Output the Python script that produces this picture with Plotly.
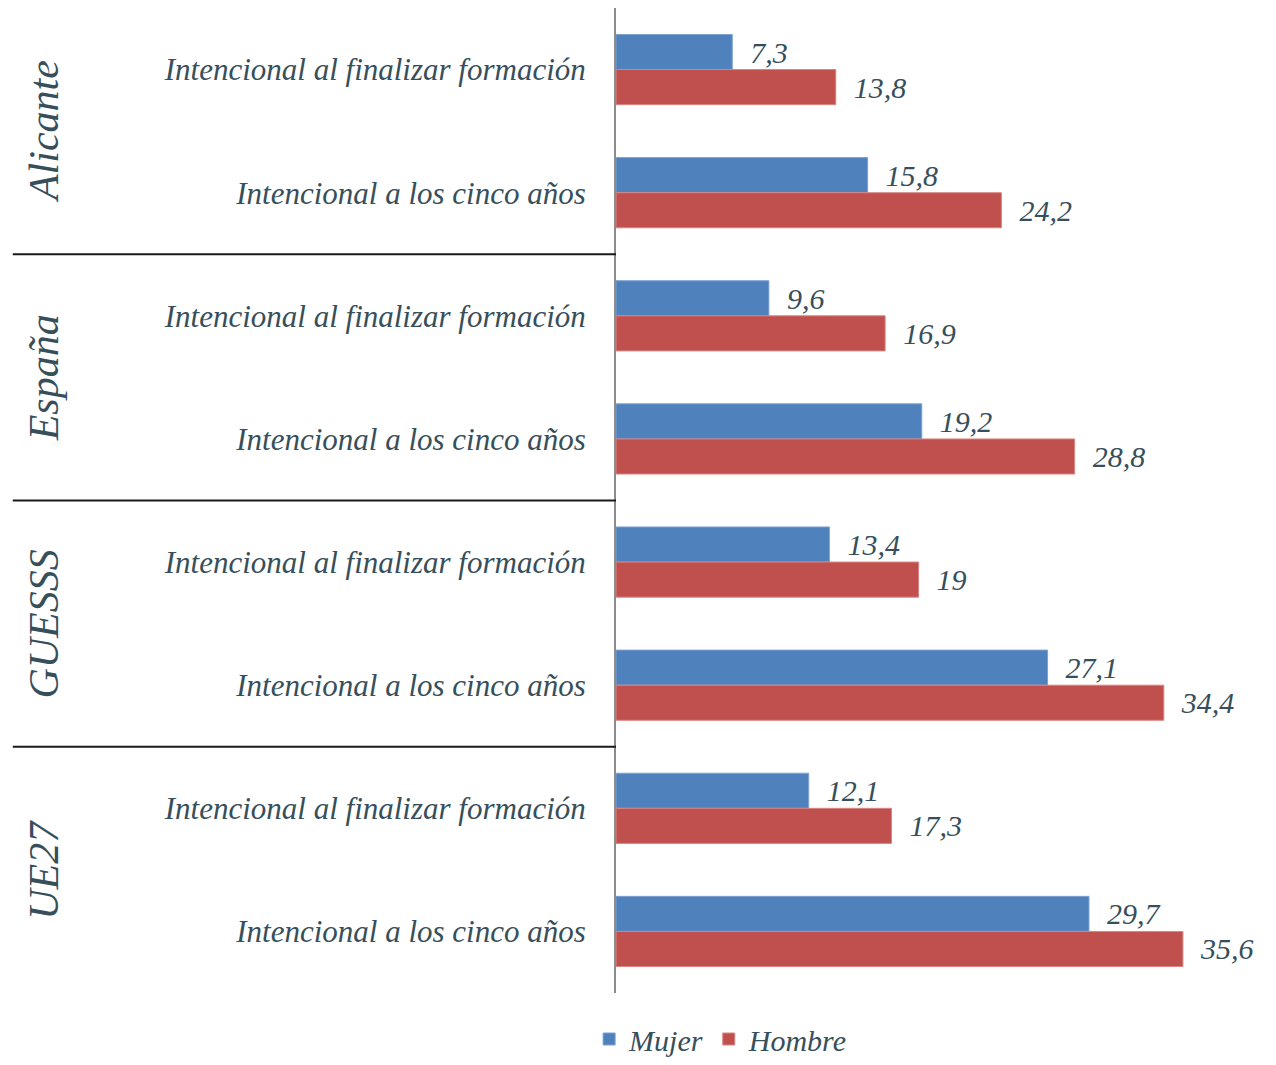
import plotly.graph_objects as go

groups = ["Alicante", "España", "GUESSS", "UE27"]
items = ["Intencional al finalizar formación", "Intencional a los cinco años"]
mujer = [7.3, 15.8, 9.6, 19.2, 13.4, 27.1, 12.1, 29.7]
hombre = [13.8, 24.2, 16.9, 28.8, 19, 34.4, 17.3, 35.6]

labels = [it for g in groups for it in items]
pos = list(range(len(labels)))

TXT = "#374f5b"
FONT = "Liberation Serif, DejaVu Serif, serif"


def fmt(v):
    return "  " + f"{v:g}".replace(".", ",")


fig = go.Figure()
fig.add_trace(go.Bar(
    y=pos, x=mujer, orientation="h", name="Mujer",
    marker=dict(color="#4f81bd", line=dict(color="#7da0d0", width=1)),
    text=[fmt(v) for v in mujer], textposition="outside", cliponaxis=False,
    textfont=dict(family=FONT, size=30, color=TXT, style="italic"),
))
fig.add_trace(go.Bar(
    y=pos, x=hombre, orientation="h", name="Hombre",
    marker=dict(color="#c0504d", line=dict(color="#d88583", width=1)),
    text=[fmt(v) for v in hombre], textposition="outside", cliponaxis=False,
    textfont=dict(family=FONT, size=30, color=TXT, style="italic"),
))

# group separators and rotated group names
n = len(items)
for k in range(1, len(groups)):
    b = k * n - 0.5
    fig.add_shape(type="line", xref="paper", yref="y", x0=-0.947, x1=0,
                  y0=b, y1=b, line=dict(color="#1a1a1a", width=2))
for k, g in enumerate(groups):
    fig.add_annotation(xref="paper", yref="y", x=-0.898, y=k * n + (n - 1) / 2,
                       xanchor="center", yanchor="middle",
                       text=g, textangle=-90, showarrow=False,
                       font=dict(family=FONT, size=42, color=TXT, style="italic"))

# page body adds an 8px margin, so the figure is drawn 8px smaller
fig.update_layout(
    width=1268, height=1057,
    margin=dict(l=608, r=23, t=0, b=72, autoexpand=False),
    barmode="group", bargap=0.43, bargroupgap=0,
    plot_bgcolor="white", paper_bgcolor="white",
    showlegend=True,
    legend=dict(orientation="h", xref="container", yref="container",
                x=0.562, xanchor="center", y=0.0, yanchor="bottom",
                font=dict(family=FONT, size=30, color=TXT, style="italic"),
                itemwidth=30),
    xaxis=dict(range=[0, 40], visible=False),
    yaxis=dict(tickvals=pos, ticktext=labels, autorange="reversed",
               showline=True, linecolor="#8c8c8c", linewidth=2,
               showgrid=False, ticks="", ticklen=0, ticklabelstandoff=22,
               tickfont=dict(family=FONT, size=31, color=TXT, style="italic")),
)

fig.write_html("out.html")
